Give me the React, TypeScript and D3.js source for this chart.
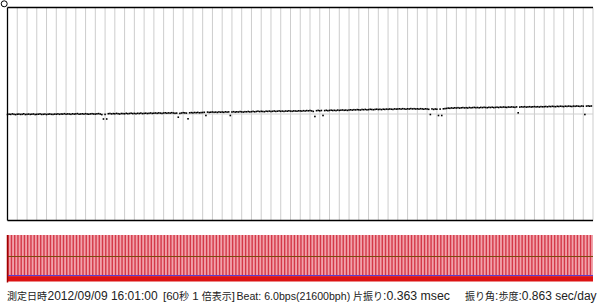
import React from "react";
import * as d3 from "d3";

// Rate deviation per beat (6 beats/s over 60 s) (px-ish units above centre)
const rateRows: number[][] = [
  [-0.5,-0.2,-0.4,0.1,-0.3,-0.6,-0.2,-0.1,-0.4,-0.3,0.2,-0.5,-0.3,-0.1,-0.4,-0.2,0.0,-0.5,-0.3,-0.2,0.1,-0.4,-0.3,-0.1,-0.5,-0.2,0.0,-0.3,-0.4,-0.1],
  [-0.2,0.1,-0.3,0.0,-0.1,0.3,-0.2,0.1,0.0,-0.3,0.2,-0.1,0.1,0.4,-0.2,0.0,0.2,-0.1,0.3,0.0,-0.2,0.1,0.3,0.0,-0.1,0.2,0.4,0.0,-0.6,-5.0],
  [-0.4,-5.0,0.3,0.5,0.1,0.4,0.2,0.6,0.3,0.0,0.5,0.4,0.2,0.7,0.3,0.5,0.8,0.4,0.6,0.3,0.7,0.5,0.9,0.4,0.6,0.8,0.5,0.7,1.0,0.6],
  [0.8,1.0,0.7,1.1,0.9,0.6,1.0,1.2,0.8,1.1,0.9,1.3,1.0,0.7,0.9,-3.2,0.6,1.0,1.3,1.1,0.9,-4.8,1.2,1.4,1.1,1.5,1.3,1.6,1.2,1.4],
  [1.5,1.7,-1.5,1.9,1.6,1.8,2.0,1.7,1.9,1.6,2.1,1.8,2.0,1.7,2.2,1.9,2.1,-1.5,2.0,2.3,1.9,2.2,2.0,2.4,2.1,1.9,2.3,2.2,2.5,2.1],
  [2.3,2.6,2.2,2.5,2.8,2.4,2.7,2.5,2.3,2.8,2.6,2.9,2.5,2.7,3.0,2.6,2.8,3.1,2.7,2.9,2.6,3.0,2.8,3.2,2.9,2.7,3.1,3.0,2.8,3.2],
  [3.1,2.9,3.3,3.0,3.4,3.2,3.5,3.1,2.6,-2.5,3.3,3.6,3.2,3.5,-1.5,3.4,3.7,3.3,3.6,3.8,3.5,3.7,3.4,3.9,3.6,3.8,4.0,3.7,3.9,3.6],
  [4.0,4.2,3.9,4.3,4.1,4.4,4.2,4.0,4.5,4.3,4.6,4.2,4.4,4.7,4.5,4.3,4.6,4.8,4.5,4.7,4.4,4.8,4.6,4.9,4.7,5.0,4.8,4.6,5.1,4.9],
  [5.0,5.2,4.9,5.3,5.1,4.8,5.2,5.0,5.4,5.1,5.3,5.0,5.2,4.9,5.3,5.1,4.8,5.2,5.0,4.7,-0.5,5.1,4.6,5.0,4.8,-1.5,4.9,-1.5,5.2,5.4],
  [5.6,5.9,5.7,6.1,5.8,6.2,6.0,6.3,5.9,6.2,6.4,6.1,6.3,6.0,6.5,6.2,6.4,6.6,6.3,6.5,6.2,6.6,6.4,6.7,6.5,6.3,6.7,6.5,6.8,6.4],
  [6.6,6.8,6.5,6.9,6.7,7.0,6.8,6.6,7.0,6.8,7.1,6.9,6.7,7.1,1.2,6.9,7.2,7.0,7.3,6.9,7.1,7.3,7.0,7.2,7.4,7.1,7.3,7.0,7.4,7.2],
  [7.3,7.5,7.2,7.6,7.4,7.7,7.5,7.3,7.7,7.5,7.8,7.6,7.4,7.8,7.6,7.9,7.7,7.5,7.9,7.7,8.0,7.8,7.6,8.0,7.8,-0.5,7.9,8.1,7.8,8.0],
];
const rateValues: number[] = rateRows.flat();
const beatsPerSecond = 6;
const seconds = 60;
const gridSeconds: number[] = d3.range(1, seconds + 1);
const captionParts: string[] = [
  "測定日時",
  "2012/09/09 16:01:00",
  "[60秒 1 倍表示]",
  "Beat: 6.0bps(21600bph)",
  "片振り:0.363 msec",
  "振り角:",
  "歩度:0.863 sec/day",
];

const cjkRe = /[\u3000-\u9fff\uff00-\uffef]+/g;
function splitRuns(s: string): { t: string; cjk: boolean }[] {
  const out: { t: string; cjk: boolean }[] = [];
  let last = 0;
  s.replace(cjkRe, (m, offset: number) => {
    if (offset > last) out.push({ t: s.slice(last, offset), cjk: false });
    out.push({ t: m, cjk: true });
    last = offset + m.length;
    return m;
  });
  if (last < s.length) out.push({ t: s.slice(last), cjk: false });
  return out;
}

export default function App() {
  const W = 600, H = 304;
  const left = 7.5, right = 593;
  const top = 7.5, bottom = 220.5;
  const x = d3.scaleLinear().domain([0, seconds]).range([left, right]);
  const y = d3.scaleLinear().domain([-106.5, 106.5]).range([bottom, top]);
  const stripTop = 235, stripMid = 256.5, stripLine = 275.5, stripBottom = 281.5;
  const beatW = (right - left) / rateValues.length;

  // caption segment layout (start x, latin font size)
  const capX = [7, 47.5, 163, 236.5, 353, 465, 498.5];
  const capLatin = [12, 12, 11.5, 10.6, 12.3, 12, 12];
  const cjkSize = 10;

  return (
    <svg width={W} height={H} style={{ position: "absolute", left: 0, top: 0, background: "#fff" }}>
      {/* grid */}
      {gridSeconds.map((s) => (
        <line key={s} x1={x(s)} x2={x(s)} y1={top} y2={bottom} stroke="#cdcdcd" strokeWidth={1} />
      ))}
      <line x1={left} x2={right} y1={y(0)} y2={y(0)} stroke="#d0d0d0" strokeWidth={1} />
      {/* frame */}
      <line x1={left} x2={right} y1={top} y2={top} stroke="#000" strokeWidth={1.3} />
      <line x1={left} x2={right} y1={bottom} y2={bottom} stroke="#000" strokeWidth={1.3} />
      <line x1={left} x2={left} y1={top} y2={bottom} stroke="#000" strokeWidth={1.3} />
      <circle cx={4.2} cy={3.8} r={3} fill="#fff" stroke="#000" strokeWidth={1} />
      {/* points */}
      {rateValues.map((v, i) => (
        <rect key={i} x={x(i / beatsPerSecond) - 0.8} y={y(v) - 0.8} width={1.6} height={1.6} fill="#000" />
      ))}
      {/* beat strip */}
      <rect x={left} y={stripTop} width={right - left} height={stripLine - stripTop} fill="#f1a2aa" />
      {rateValues.map((_, i) =>
        i % 2 === 0 ? (
          <rect
            key={"b" + i}
            x={x(i / beatsPerSecond)}
            y={stripTop}
            width={beatW * 0.85}
            height={stripLine - stripTop}
            fill="#d43848"
          />
        ) : null
      )}
      <line x1={left} x2={right} y1={stripMid} y2={stripMid} stroke="#7d4a10" strokeWidth={1} />
      <line x1={left} x2={right} y1={stripLine} y2={stripLine} stroke="#5a3cd0" strokeWidth={1.2} />
      <rect x={left} y={stripLine + 0.6} width={right - left} height={stripBottom - stripLine - 0.6} fill="#dc1212" />
      <line x1={left} x2={left} y1={stripTop} y2={stripBottom + 1} stroke="#a00000" strokeWidth={1.5} />
      {/* caption */}
      <text y={300} fill="#222" fontFamily="'Liberation Sans', 'Noto Sans CJK JP', sans-serif">
        {captionParts.map((seg, i) =>
          splitRuns(seg).map((r, j) => (
            <tspan
              key={"c" + i + "_" + j}
              x={j === 0 ? capX[i] : undefined}
              fontSize={r.cjk ? cjkSize : capLatin[i]}
              fontFamily={r.cjk ? "'Noto Sans CJK JP', sans-serif" : "'Liberation Sans', sans-serif"}
            >
              {r.t}
            </tspan>
          ))
        )}
      </text>
    </svg>
  );
}
